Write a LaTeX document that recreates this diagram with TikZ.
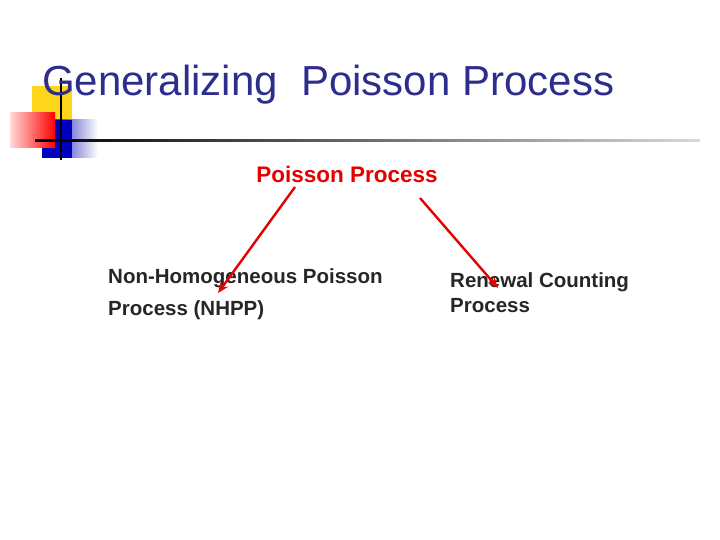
\documentclass[tikz,border=0pt]{standalone}
\usepackage{fontspec}
\setmainfont{Liberation Sans}
\usetikzlibrary{arrows.meta}
\begin{document}
\begin{tikzpicture}[x=1pt,y=-1pt,
  lbl/.style={text=black!85, anchor=base west, align=left, inner sep=0pt},
  arr/.style={draw=red!90!black, line width=2.4pt, -{Stealth[length=11pt,width=9pt]}}]
\useasboundingbox (0,0) rectangle (720,540);
\fill[white] (0,0) rectangle (720,540);
% logo
\fill[yellow!70!orange!90] (32,86) rectangle (72,126);
\shade[left color=blue!70!black, right color=white] (42,120) rectangle (98,158);
\fill[blue!75!black] (42,120) rectangle (72,158);
\shade[left color=red!15, right color=red] (10,113) rectangle (55,148);
\shade[left color=black, right color=black!15] (35,140) rectangle (700,142);
\fill[black] (35,140) rectangle (75,142);
\fill[black] (60,78) rectangle (62,160);
% texts
\node[anchor=base west, inner sep=0pt, text={rgb,255:red,45;green,45;blue,140}, font=\fontsize{42}{50}\selectfont] (title) at (42,96) {Generalizing\ \ Poisson Process};
\node[anchor=base, inner sep=0pt, text=red!90!black, font=\bfseries\fontsize{22.5}{26}\selectfont] (top) at (347,183) {Poisson Process};
\node[lbl, font=\bfseries\fontsize{20.5}{32}\selectfont] (left) at (108,315) {Non-Homogeneous Poisson\\Process (NHPP)};
\node[lbl, font=\bfseries\fontsize{20.5}{25}\selectfont] (right) at (450,312) {Renewal Counting\\Process};
\coordinate (s1) at (295,187);
\coordinate (e1) at (218,293);
\coordinate (s2) at (420,198);
\coordinate (e2) at (498,288);
\draw[arr] (s1) -- (e1);
\draw[arr] (s2) -- (e2);
\end{tikzpicture}
\end{document}
